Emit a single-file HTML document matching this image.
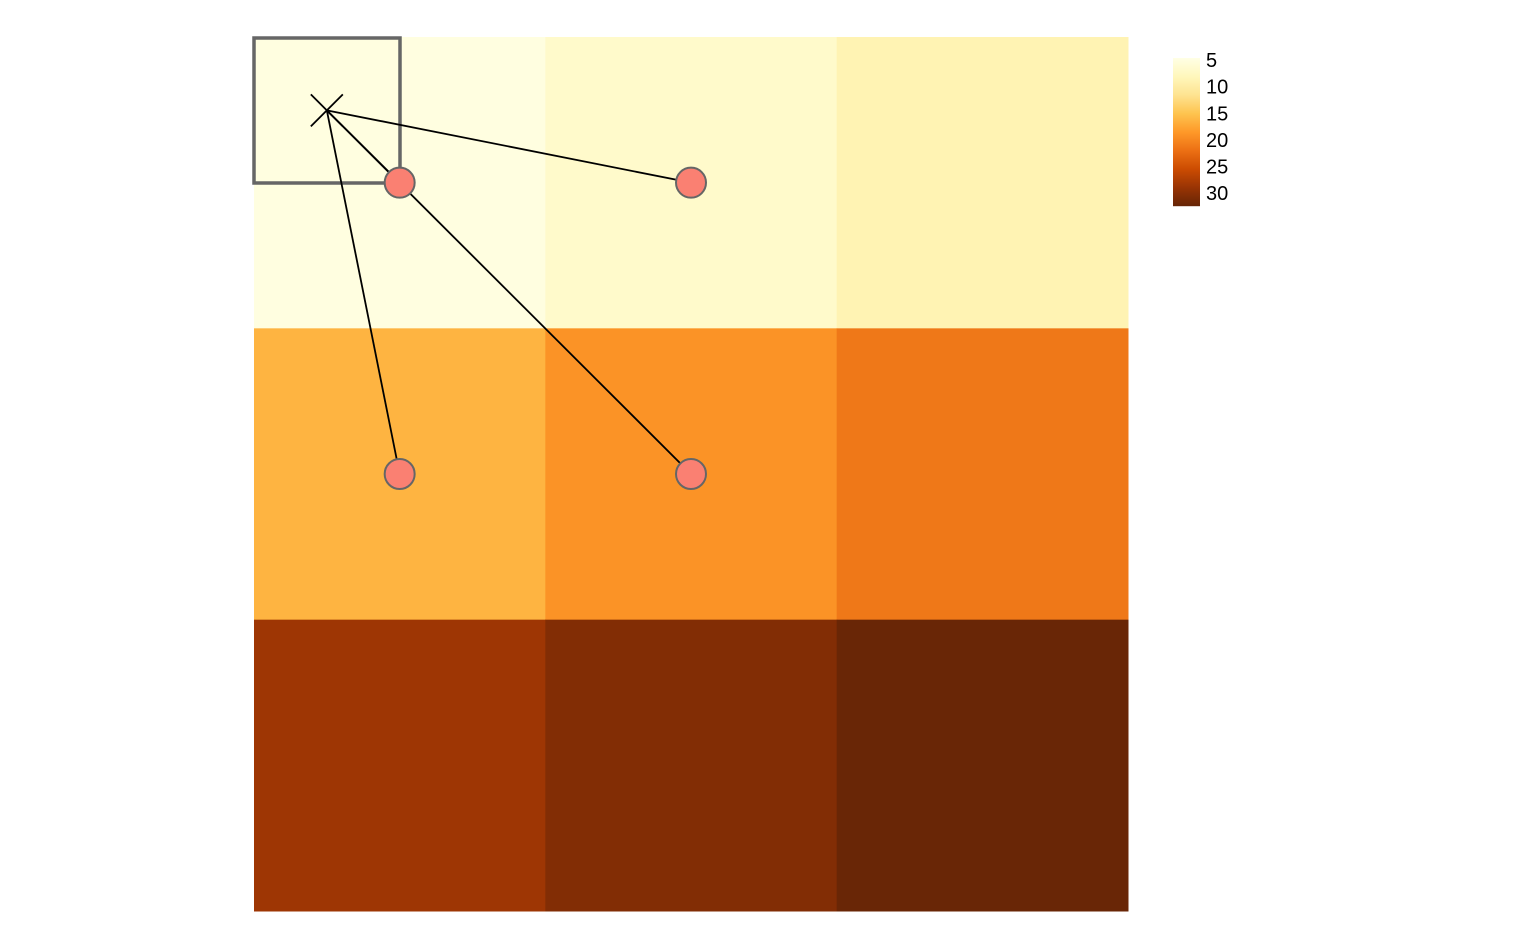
<!DOCTYPE html>
<html><head><meta charset="utf-8"><style>
body{margin:0;background:#fff;}
svg{display:block;font-family:"Liberation Sans",Arial,sans-serif;}
</style></head><body>
<svg id="chart" width="1536" height="949" xmlns="http://www.w3.org/2000/svg"></svg>
<script>
const rows = [0,1,2];
const cols = [0,1,2];
const cellValues = [5, 6.8, 8.8, 16.3, 19, 21.3, 28.6, 30.5, 32.2];
const legendTicks = [5,10,15,20,25,30];
const domainMin = 4.6, domainMax = 32.4;
const pointCols = [0.5, 1.5, 0.5, 1.5];
const pointRows = [0.5, 0.5, 1.5, 1.5];
const crossPos = [0.25, 0.25];

const stops = ["#ffffe5","#fff7bc","#fee391","#fec44f","#fe9929","#ec7014","#cc4c02","#993404","#662506"];
function hex(c){return [1,3,5].map(i=>parseInt(c.substr(i,2),16));}
function color(v){
  let t=Math.max(0,Math.min(1,(v-domainMin)/(domainMax-domainMin)))*(stops.length-1);
  let i=Math.min(stops.length-2,Math.floor(t)),f=t-i;
  let a=hex(stops[i]),b=hex(stops[i+1]);
  return "rgb("+a.map((x,k)=>Math.round(x+(b[k]-x)*f)).join(",")+")";
}
const X0=254,Y0=37,CW=(1128-254)/3,CH=(911-37)/3;
const xs=c=>X0+c*CW, ys=r=>Y0+r*CH;
const svg=document.getElementById('chart');
const NS="http://www.w3.org/2000/svg";
function mk(tag,attrs){const e=document.createElementNS(NS,tag);for(const k in attrs)e.setAttribute(k,attrs[k]);svg.appendChild(e);return e;}

rows.forEach(r=>cols.forEach(c=>{
  const el=mk('rect',{x:xs(c),y:ys(r),width:CW+0.5,height:CH+0.5,fill:color(cellValues[r*3+c])});
  
  
}));
const box=mk('rect',{x:254,y:38,width:146,height:145,fill:'none',stroke:'#666',"stroke-width":3.5});


const cx=xs(crossPos[0]),cy=ys(crossPos[1])+0.5;
pointCols.forEach((pc,i)=>{
  const l=mk('line',{x1:cx,y1:cy,x2:xs(pc),y2:ys(pointRows[i]),stroke:'#000',"stroke-width":1.8});
  
  
});
const cr=mk('path',{d:`M${cx-16},${cy-16}L${cx+16},${cy+16}M${cx+16},${cy-16}L${cx-16},${cy+16}`,stroke:'#000',"stroke-width":1.8});


pointCols.forEach((pc,i)=>{
  const p=mk('circle',{cx:xs(pc),cy:ys(pointRows[i]),r:15,fill:'#fa8072',stroke:'#666',"stroke-width":2});
  
  
});
const LT=58,LB=206,LX=1173,LW=27;
const ly=v=>LT+(v-domainMin)/(domainMax-domainMin)*(LB-LT);
for(let y=LT;y<LB;y++){
  const v=domainMin+(y-LT+0.5)/(LB-LT)*(domainMax-domainMin);
  const s=mk('rect',{x:LX,y:y,width:LW,height:1.2,fill:color(v)});
  
  
}
legendTicks.forEach(t=>{
  const tx=mk('text',{x:1206,y:ly(t)+7,"font-size":20,fill:'#000'});
  tx.textContent=t;
  
  
});
</script>
</body></html>
